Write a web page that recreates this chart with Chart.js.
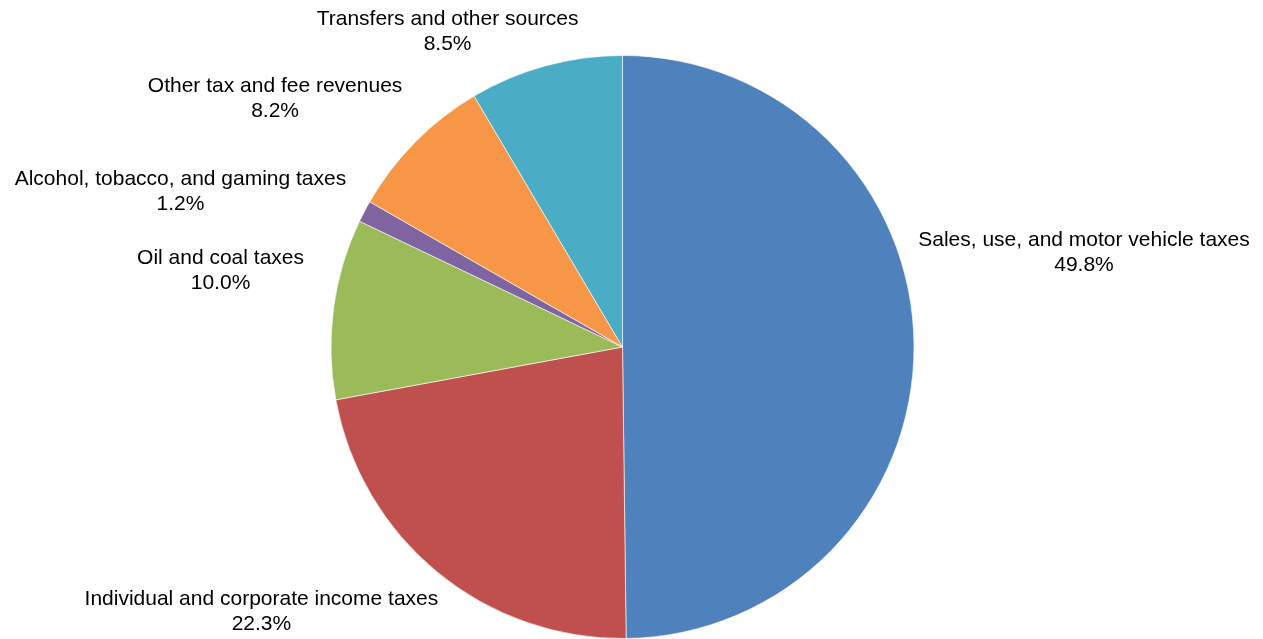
<!DOCTYPE html>
<html>
<head>
<meta charset="utf-8">
<script src="https://cdn.jsdelivr.net/npm/chart.js@4"></script>
<style>
  html, body { margin: 0; padding: 0; background: #fff; }
  #wrap { width: 1263px; height: 639px; }
</style>
</head>
<body>
<div id="wrap"><canvas id="pie"></canvas></div>
<script>
const categories = [
  'Sales, use, and motor vehicle taxes',
  'Individual and corporate income taxes',
  'Oil and coal taxes',
  'Alcohol, tobacco, and gaming taxes',
  'Other tax and fee revenues',
  'Transfers and other sources'
];
const shares = [49.8, 22.3, 10.0, 1.2, 8.2, 8.5];
const colors = ['#4F81BD', '#C0504D', '#9BBB59', '#8064A2', '#F79646', '#4BACC6'];

// where each label sits relative to the outer edge of its slice
const labelNudge = [[170, -92], [-176, 40], [-113, -38], [-184, -20], [-140, -43], [-98, -34]];

const outsideLabels = {
  id: 'outsideLabels',
  afterDatasetsDraw(chart) {
    const ctx = chart.ctx;
    const arcs = chart.getDatasetMeta(0).data;
    ctx.save();
    ctx.font = '21px "Liberation Sans", Arial, sans-serif';
    ctx.fillStyle = '#000';
    ctx.textAlign = 'center';
    ctx.textBaseline = 'middle';
    arcs.forEach((arc, i) => {
      const p = arc.getProps(['x', 'y', 'startAngle', 'endAngle', 'outerRadius']);
      const mid = (p.startAngle + p.endAngle) / 2;
      const x = p.x + Math.cos(mid) * p.outerRadius + labelNudge[i][0];
      const y = p.y + Math.sin(mid) * p.outerRadius + labelNudge[i][1];
      ctx.fillText(categories[i], x, y - 12.5);
      ctx.fillText(shares[i].toFixed(1) + '%', x, y + 12.5);
    });
    ctx.restore();
  }
};

const chart = new Chart(document.getElementById('pie'), {
  type: 'pie',
  data: {
    labels: categories,
    datasets: [{
      data: shares,
      backgroundColor: colors,
      borderColor: 'rgba(255,255,255,0.6)',
      borderWidth: 1
    }]
  },
  options: {
    responsive: true,
    maintainAspectRatio: false,
    animation: false,
    layout: { padding: { left: 330, right: 348, top: 55, bottom: 0 } },
    plugins: {
      legend: { display: false },
      tooltip: { enabled: false }
    }
  },
  plugins: [outsideLabels]
});
</script>
</body>
</html>
